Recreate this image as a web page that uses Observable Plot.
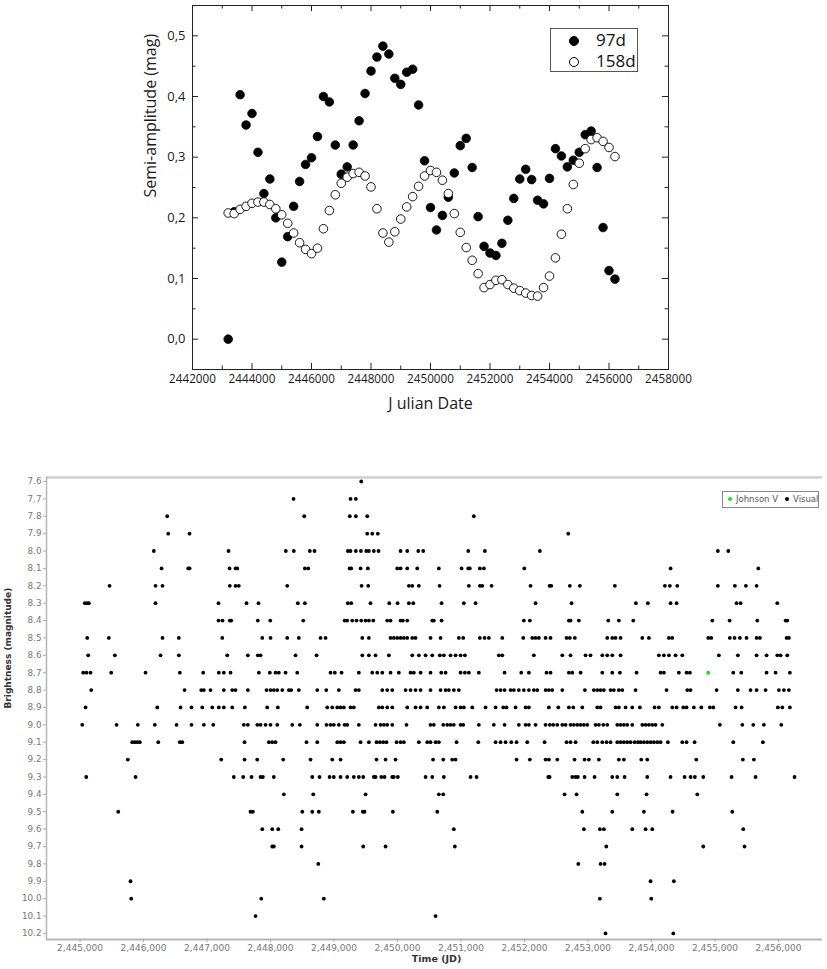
<!DOCTYPE html>
<html>
<head>
<meta charset="utf-8">
<script src="https://cdn.jsdelivr.net/npm/d3@7"></script>
<script src="https://cdn.jsdelivr.net/npm/@observablehq/plot@0.6"></script>
<style>
  body { margin: 0; background: #fff; }
  #page { position: relative; width: 827px; height: 969px; overflow: hidden; background: #fff; }
  #ampChart { position: absolute; left: 0; top: 0; }
  #lcChart { position: absolute; left: 0; top: 440px; }
  .legend1 { position: absolute; left: 550px; top: 28px; width: 86px; height: 42px; border: 1px solid #555; background: #fff;
             font-family: "Open Sans", sans-serif; font-size: 17px; color: #111; }
  .legend1 .row { position: absolute; left: 0; height: 21px; line-height: 21px; }
  .legend1 .sym { position: absolute; left: 18px; top: 6px; width: 8px; height: 8px; border-radius: 50%; border: 1px solid #000; }
  .legend1 .lab { position: absolute; left: 45px; top: -1px; white-space: nowrap; }
  .legend2 { position: absolute; left: 722px; top: 491px; width: 95px; height: 15px; border: 1px solid #888; background: #fff;
             font-family: "DejaVu Sans", sans-serif; font-size: 8.5px; color: #555; line-height: 15px; white-space: nowrap; }
  .legend2 .dot { display: inline-block; width: 4px; height: 4px; border-radius: 50%; vertical-align: middle; margin: 0 4px 1px 5px; }
</style>
</head>
<body>
<div id="page">
  <div id="ampChart"></div>
  <div id="lcChart"></div>
  <div class="legend1">
    <div class="row" style="top:1px"><span class="sym" style="background:#000"></span><span class="lab">97d</span></div>
    <div class="row" style="top:22px"><span class="sym" style="background:#fff"></span><span class="lab">158d</span></div>
  </div>
  <div class="legend2"><span class="dot" style="background:#22dd22"></span>Johnson V<span class="dot" style="background:#000;margin-left:7px"></span>Visual</div>
</div>
<script>
// ---------- Semi-amplitude of the two periods over time ----------
const epochs = [2443200, 2443400, 2443600, 2443800, 2444000, 2444200, 2444400, 2444600, 2444800, 2445000,
  2445200, 2445400, 2445600, 2445800, 2446000, 2446200, 2446400, 2446600, 2446800, 2447000,
  2447200, 2447400, 2447600, 2447800, 2448000, 2448200, 2448400, 2448600, 2448800, 2449000,
  2449200, 2449400, 2449600, 2449800, 2450000, 2450200, 2450400, 2450600, 2450800, 2451000,
  2451200, 2451400, 2451600, 2451800, 2452000, 2452200, 2452400, 2452600, 2452800, 2453000,
  2453200, 2453400, 2453600, 2453800, 2454000, 2454200, 2454400, 2454600, 2454800, 2455000,
  2455200, 2455400, 2455600, 2455800, 2456000, 2456200];

const amp97 = [0.0, 0.21, 0.403, 0.353, 0.372, 0.308, 0.24, 0.264, 0.2, 0.127,
  0.169, 0.219, 0.26, 0.288, 0.299, 0.334, 0.4, 0.391, 0.32, 0.272,
  0.284, 0.32, 0.36, 0.405, 0.442, 0.465, 0.483, 0.47, 0.43, 0.42,
  0.44, 0.445, 0.386, 0.294, 0.217, 0.18, 0.204, 0.234, 0.274, 0.319,
  0.331, 0.283, 0.202, 0.153, 0.142, 0.138, 0.158, 0.196, 0.232, 0.264,
  0.28, 0.263, 0.229, 0.223, 0.265, 0.314, 0.302, 0.284, 0.295, 0.308,
  0.337, 0.343, 0.283, 0.184, 0.113, 0.099];

const amp158 = [0.208, 0.207, 0.214, 0.219, 0.224, 0.226, 0.226, 0.222, 0.215, 0.205,
  0.191, 0.175, 0.159, 0.148, 0.141, 0.15, 0.182, 0.212, 0.238, 0.257,
  0.267, 0.273, 0.275, 0.269, 0.251, 0.215, 0.175, 0.16, 0.177, 0.198,
  0.218, 0.235, 0.252, 0.269, 0.278, 0.275, 0.262, 0.24, 0.207, 0.176,
  0.151, 0.13, 0.108, 0.085, 0.09, 0.097, 0.098, 0.09, 0.084, 0.08,
  0.076, 0.072, 0.071, 0.085, 0.104, 0.134, 0.173, 0.215, 0.255, 0.29,
  0.314, 0.329, 0.332, 0.326, 0.316, 0.301];

const ampXMajor = [2442000, 2444000, 2446000, 2448000, 2450000, 2452000, 2454000, 2456000, 2458000];
const ampXMinor = [2443000, 2445000, 2447000, 2449000, 2451000, 2453000, 2455000, 2457000];
const ampYMajor = [0.0, 0.1, 0.2, 0.3, 0.4, 0.5];
const ampYMinor = [0.05, 0.15, 0.25, 0.35, 0.45];

// ---------- Visual light curve: magnitudes and the dates observed at each ----------
const visualMag = [7.6, 7.7, 7.8, 7.9, 8.0, 8.1, 8.2, 8.3, 8.4, 8.5, 8.6, 8.7, 8.8, 8.9,
  9.0, 9.1, 9.2, 9.3, 9.4, 9.5, 9.6, 9.7, 9.8, 9.9, 10.0, 10.1, 10.2];

const visualJD = [
  [2449429],
  [2448363, 2449260, 2449344],
  [2446373, 2448531, 2449249, 2449344, 2449523, 2451202],
  [2446389, 2446725, 2449523, 2449602, 2449690, 2452689],
  [2446162, 2447339, 2448241, 2448367, 2448619, 2448693, 2449218, 2449260, 2449344, 2449423, 2449508, 2449549,
   2449627, 2449701, 2450048, 2450153, 2450327, 2450405, 2451114, 2451376, 2452242, 2455045, 2455209],
  [2446284, 2446704, 2446725, 2447355, 2447449, 2447476, 2448541, 2448594, 2449245, 2449271, 2449418, 2449533,
   2449996, 2450048, 2450153, 2450311, 2450651, 2451009, 2451114, 2451139, 2451297, 2451360, 2451996, 2454300, 2455682],
  [2445465, 2446189, 2446299, 2447359, 2447449, 2447501, 2448263, 2449434, 2449539, 2450179, 2450232, 2450336,
   2450662, 2451124, 2451297, 2451335, 2451481, 2452095, 2452395, 2452421, 2452714, 2452872, 2453423, 2454211,
   2454289, 2454406, 2455045, 2455313, 2455486, 2455655],
  [2445076, 2445113, 2445139, 2446189, 2447181, 2447622, 2447811, 2448430, 2448541, 2449218, 2449271, 2449575,
   2449870, 2450001, 2450179, 2450248, 2450694, 2451045, 2451229, 2452174, 2452741, 2453754, 2453943, 2454300,
   2454395, 2455340, 2455403, 2455981],
  [2447181, 2447244, 2447359, 2447381, 2447800, 2447996, 2448515, 2449166, 2449208, 2449287, 2449355, 2449429,
   2449497, 2449549, 2449618, 2449838, 2449890, 2450048, 2450084, 2450153, 2450547, 2450572, 2450694, 2451990,
   2452084, 2452699, 2452725, 2452856, 2453319, 2453486, 2453713, 2454957, 2455230, 2455666, 2456112, 2456138],
  [2445113, 2445454, 2446299, 2446556, 2447240, 2447870, 2448000, 2448263, 2448446, 2448788, 2448867, 2449445,
   2449549, 2449890, 2449942, 2449996, 2450048, 2450100, 2450153, 2450232, 2450284, 2450520, 2450678, 2450966,
   2451035, 2451297, 2451371, 2451439, 2451650, 2451980, 2452122, 2452174, 2452226, 2452332, 2452410, 2452662,
   2452714, 2452793, 2453303, 2453382, 2453434, 2453513, 2453855, 2453959, 2454274, 2454327, 2454894, 2454941,
   2455234, 2455308, 2455392, 2455497, 2455655, 2455707, 2456127, 2456164],
  [2445129, 2445548, 2446268, 2446556, 2447318, 2447643, 2447800, 2447843, 2448394, 2448725, 2449445, 2449549,
   2449654, 2449864, 2450232, 2450336, 2450442, 2450547, 2450667, 2450730, 2450835, 2450914, 2450993, 2451061,
   2451596, 2451650, 2452147, 2452595, 2452725, 2452962, 2453040, 2453225, 2453303, 2453382, 2453513, 2454116,
   2454195, 2454274, 2454379, 2454485, 2455061, 2455360, 2455655, 2455812, 2455981, 2456033, 2456138],
  [2445050, 2445102, 2445165, 2445491, 2446032, 2446572, 2446940, 2447186, 2447265, 2447370, 2447816, 2447989,
   2448079, 2448131, 2448237, 2448421, 2448945, 2449013, 2449119, 2449391, 2449602, 2449681, 2449760, 2449890,
   2450021, 2450205, 2450257, 2450363, 2450520, 2450689, 2450757, 2450993, 2451061, 2451124, 2451281, 2451686,
   2451949, 2452069, 2452347, 2452410, 2452699, 2452752, 2452883, 2453225, 2453382, 2453502, 2453765, 2454143,
   2454195, 2454431, 2454552, 2454604, 2455288, 2455414, 2455812, 2455954, 2456179],
  [2445176, 2446646, 2446909, 2446950, 2447055, 2447265, 2447397, 2447449, 2447643, 2447937, 2448000, 2448052,
   2448106, 2448185, 2448289, 2448326, 2448446, 2448736, 2448878, 2449076, 2449339, 2449391, 2449760, 2449838,
   2449917, 2450127, 2450205, 2450284, 2450363, 2450520, 2450678, 2450757, 2450809, 2450887, 2450966, 2451560,
   2451623, 2451686, 2451780, 2451832, 2451911, 2451990, 2452069, 2452147, 2452201, 2452332, 2452384, 2452437,
   2452595, 2452951, 2453092, 2453146, 2453198, 2453250, 2453355, 2453407, 2453486, 2453540, 2453749, 2454237,
   2454563, 2454615, 2455025, 2455360, 2455560, 2455655, 2455797, 2456006, 2456085, 2456164],
  [2445087, 2446216, 2446583, 2446756, 2446925, 2447082, 2447186, 2447265, 2447397, 2447596, 2447948, 2448115,
   2448578, 2448893, 2448972, 2449051, 2449103, 2449155, 2449260, 2449312, 2449706, 2449760, 2449838, 2449917,
   2450153, 2450284, 2450363, 2450468, 2450651, 2450730, 2450914, 2450993, 2451045, 2451177, 2451387, 2451544,
   2451665, 2451717, 2451859, 2452017, 2452069, 2452384, 2452532, 2452699, 2452768, 2452910, 2453146, 2453198,
   2453434, 2453486, 2453592, 2453697, 2453817, 2454048, 2454116, 2454327, 2454395, 2454500, 2454552, 2454667,
   2454784, 2454919, 2454973, 2455324, 2455419, 2455990, 2456060, 2456179],
  [2445035, 2445575, 2445910, 2446178, 2446520, 2446756, 2446950, 2447098, 2447580, 2447643, 2447791, 2447843,
   2447922, 2448000, 2448106, 2448342, 2448462, 2448736, 2448882, 2448945, 2448997, 2449076, 2449166, 2449208,
   2449391, 2449654, 2449733, 2449785, 2449838, 2449917, 2450142, 2450520, 2450572, 2450720, 2450783, 2450835,
   2450887, 2450993, 2451035, 2451281, 2451517, 2451686, 2451911, 2452017, 2452069, 2452174, 2452332, 2452399,
   2452453, 2452516, 2452595, 2452647, 2452725, 2452777, 2452831, 2452883, 2452935, 2452988, 2453119, 2453171,
   2453240, 2453303, 2453461, 2453513, 2453565, 2453618, 2453697, 2453855, 2453907, 2453959, 2454012, 2454064,
   2454170, 2455077, 2455430, 2455603, 2455770, 2456044],
  [2445822, 2445863, 2445901, 2445942, 2446232, 2446572, 2446610, 2447591, 2447974, 2448027, 2448079, 2448567,
   2448736, 2449051, 2449103, 2449155, 2449418, 2449549, 2449670, 2449722, 2449775, 2449827, 2449985, 2450048,
   2450100, 2450336, 2450468, 2450520, 2450599, 2450651, 2450930, 2451272, 2451544, 2451623, 2451702, 2451791,
   2451875, 2452043, 2452316, 2452662, 2452725, 2452804, 2453083, 2453146, 2453225, 2453292, 2453355, 2453461,
   2453513, 2453565, 2453618, 2453670, 2453733, 2453785, 2453828, 2453880, 2453933, 2453985, 2454037, 2454091,
   2454143, 2454258, 2454485, 2454552, 2454678, 2455288, 2455754],
  [2445753, 2447224, 2447591, 2447791, 2448200, 2448630, 2448972, 2449103, 2449670, 2449812, 2449969, 2450560,
   2450720, 2450862, 2450914, 2451875, 2452084, 2452332, 2452384, 2452516, 2452788, 2452946, 2453014, 2453171,
   2453486, 2453565, 2453839, 2453933, 2454705, 2455439, 2455612],
  [2445098, 2445874, 2447422, 2447570, 2447701, 2447843, 2447879, 2448052, 2448657, 2448772, 2448930, 2448997,
   2449103, 2449208, 2449312, 2449391, 2449460, 2449627, 2449654, 2449744, 2449796, 2449917, 2449942, 2450005,
   2450442, 2450547, 2450730, 2451150, 2451245, 2452374, 2452395, 2452752, 2452804, 2452840, 2452946, 2453103,
   2453382, 2453461, 2453576, 2453933, 2454300, 2454521, 2454615, 2454683, 2454815, 2455261, 2455639, 2456253],
  [2448210, 2448673, 2449497, 2450651, 2450720, 2452631, 2452820, 2453461, 2453922, 2454721],
  [2445602, 2447685, 2447722, 2448500, 2448657, 2448761, 2449297, 2449454, 2449481, 2449927, 2450626, 2452910,
   2453382, 2453880, 2454332, 2455272],
  [2447870, 2448027, 2448122, 2448489, 2450887, 2452935, 2453187, 2453250, 2453697, 2453907, 2454012, 2455445],
  [2448027, 2448052, 2448489, 2449460, 2449812, 2450903, 2453288, 2454815, 2455466],
  [2448752, 2452847, 2453198, 2453261],
  [2445795, 2453985, 2454352],
  [2445806, 2447854, 2448840, 2453187, 2453996],
  [2447764, 2450599],
  [2453276, 2454343]
];

// Johnson V photometry (a single point)
const johnsonJD = [2454894];
const johnsonMag = [8.7];

const lcXTicks = [2445000, 2446000, 2447000, 2448000, 2449000, 2450000, 2451000, 2452000, 2453000, 2454000, 2455000, 2456000];

// ---------- Panel 1: semi-amplitude ----------
const ampRows = epochs.map((t, i) => ({t, a97: amp97[i], a158: amp158[i]}));
const A = {w: 827, h: 425, ml: 192, mr: 159, mt: 5, mb: 56};
const innerH = A.h - A.mt - A.mb;
const innerW = A.w - A.ml - A.mr;
const comma1 = d => d.toFixed(1).replace(".", ",");
const ink = "#1a1a1a";

const ampPlot = Plot.plot({
  width: A.w, height: A.h,
  marginLeft: A.ml, marginRight: A.mr, marginTop: A.mt, marginBottom: A.mb,
  x: {domain: [2442000, 2458000]},
  y: {domain: [-0.05, 0.55]},
  style: {fontFamily: "'Open Sans', sans-serif", color: ink, background: "#fff"},
  marks: [
    Plot.frame({stroke: "#222", strokeWidth: 1}),
    // inward ticks on all four sides: major every 2000 d / 0.1 mag, minor halfway
    Plot.tickX(ampXMajor, {x: d => d, insetTop: innerH - 6, stroke: "#222"}),
    Plot.tickX(ampXMinor, {x: d => d, insetTop: innerH - 3.5, stroke: "#222"}),
    Plot.tickX(ampXMajor, {x: d => d, insetBottom: innerH - 6, stroke: "#222"}),
    Plot.tickX(ampXMinor, {x: d => d, insetBottom: innerH - 3.5, stroke: "#222"}),
    Plot.tickY(ampYMajor, {y: d => d, insetRight: innerW - 6, stroke: "#222"}),
    Plot.tickY(ampYMinor, {y: d => d, insetRight: innerW - 3.5, stroke: "#222"}),
    Plot.tickY(ampYMajor, {y: d => d, insetLeft: innerW - 6, stroke: "#222"}),
    Plot.tickY(ampYMinor, {y: d => d, insetLeft: innerW - 3.5, stroke: "#222"}),
    Plot.axisX(ampXMajor, {tickSize: 0, tickPadding: 5, fontSize: 11.7, tickFormat: d => String(d), label: null}),
    Plot.axisY(ampYMajor, {tickSize: 0, tickPadding: 7, fontSize: 13, tickFormat: comma1, label: null}),
    Plot.text(["J ulian Date"], {frameAnchor: "bottom", dy: 39, fontSize: 16, fill: ink}),
    Plot.text(["Semi-amplitude (mag)"], {frameAnchor: "left", rotate: -90, dx: -42, dy: 10, fontSize: 16, fill: ink}),
    Plot.dot(ampRows, {x: "t", y: "a97", r: 4.3, fill: "#000", stroke: "#000", strokeWidth: 0.8}),
    Plot.dot(ampRows, {x: "t", y: "a158", r: 4.3, fill: "#fff", stroke: "#000", strokeWidth: 0.9})
  ]
});
document.getElementById("ampChart").append(ampPlot);

// ---------- Panel 2: visual light curve ----------
const visualPts = visualMag.flatMap((m, i) => visualJD[i].map(t => ({t, m})));
const johnsonPts = johnsonJD.map((t, i) => ({t, m: johnsonMag[i]}));
const xDom = [2444472, 2456693];
const yDom = [10.235, 7.577];

const lcPlot = Plot.plot({
  width: 827, height: 529,
  marginLeft: 46, marginRight: 5, marginTop: 37, marginBottom: 30,
  x: {domain: xDom},
  y: {domain: yDom},
  style: {fontFamily: "'DejaVu Sans', sans-serif", color: "#777", background: "#fff"},
  marks: [
    Plot.ruleY([yDom[1]], {stroke: "#cfcfcf", strokeWidth: 2.5}),
    Plot.ruleY([yDom[0]], {stroke: "#b5b5b5", strokeWidth: 2}),
    Plot.ruleX([xDom[0]], {stroke: "#b5b5b5", strokeWidth: 1.5}),
    Plot.axisX(lcXTicks, {tickSize: 3, tickPadding: 2, fontSize: 9, tickFormat: d3.format(","), label: null, stroke: "#aaa"}),
    Plot.axisY(visualMag, {tickSize: 3, tickPadding: 2, fontSize: 8.8, tickFormat: d3.format(".1f"), label: null, stroke: "#aaa"}),
    Plot.text(["Time (JD)"], {frameAnchor: "bottom", dy: 22, dx: 2, fontSize: 9.5, fontWeight: "bold", fill: "#333"}),
    Plot.text(["Brightness (magnitude)"], {frameAnchor: "left", rotate: -90, dx: -38, fontSize: 9, fontWeight: "bold", fill: "#333"}),
    Plot.dot(visualPts, {x: "t", y: "m", r: 1.9, fill: "#000", stroke: "none"}),
    Plot.dot(johnsonPts, {x: "t", y: "m", r: 2, fill: "#22dd22", stroke: "none"})
  ]
});
document.getElementById("lcChart").append(lcPlot);
</script>
</body>
</html>
